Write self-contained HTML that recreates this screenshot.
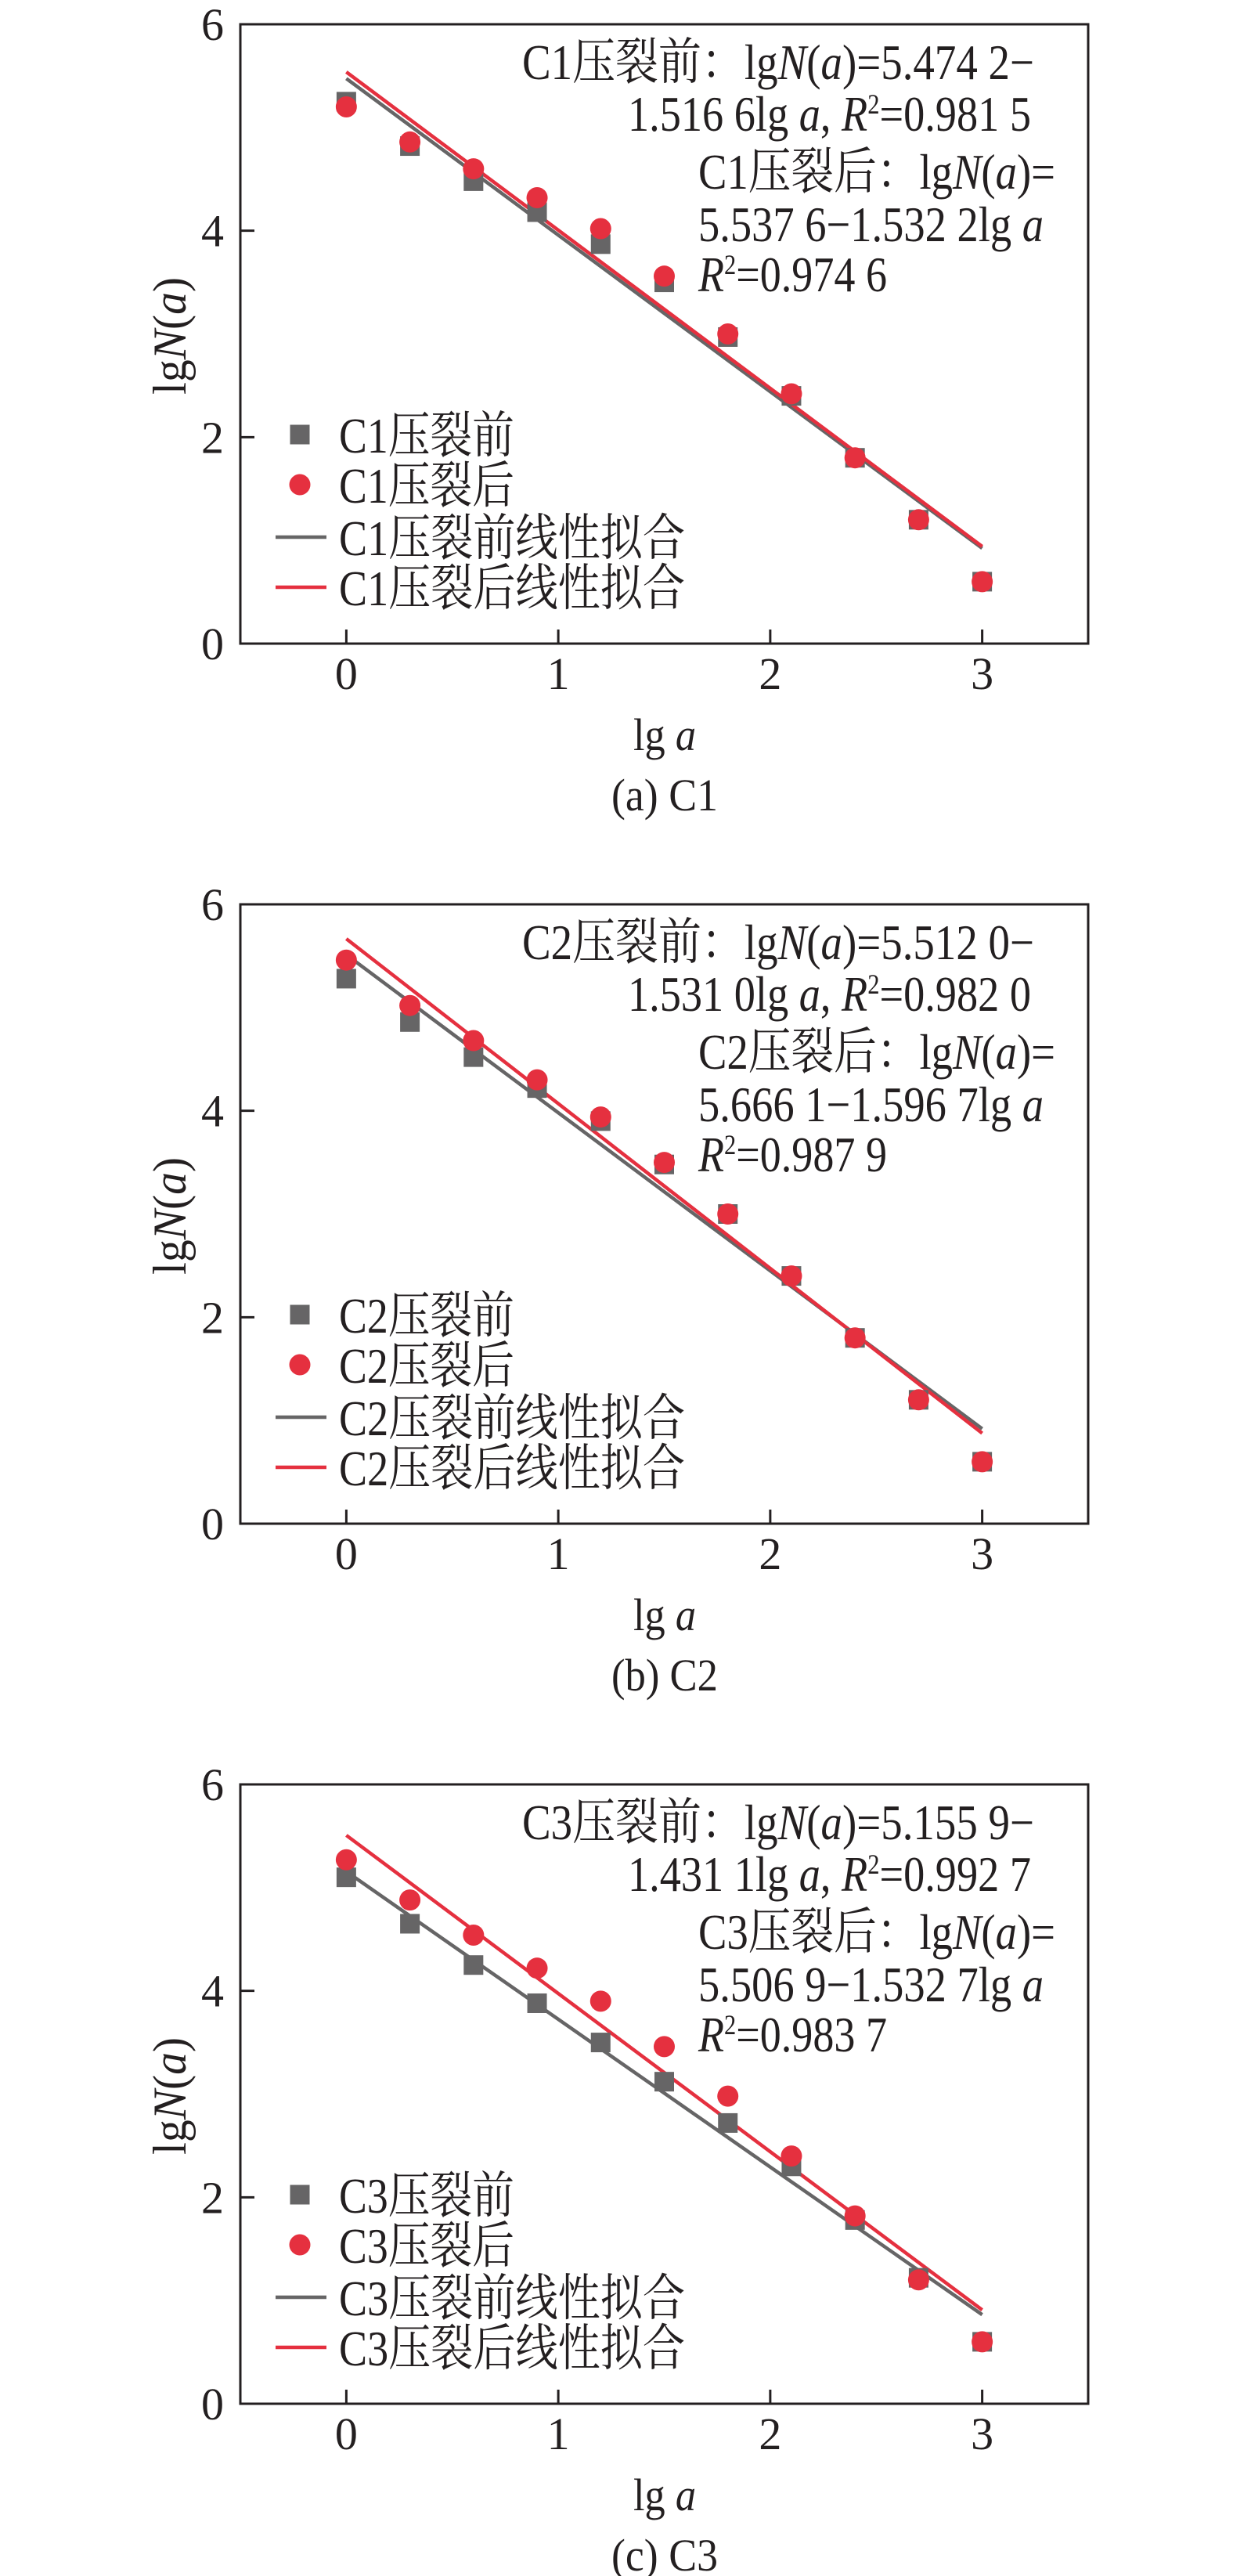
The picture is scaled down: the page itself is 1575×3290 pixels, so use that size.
<!DOCTYPE html>
<html><head><meta charset="utf-8">
<style>
html,body{margin:0;padding:0;background:#fff;}
svg{display:block;}
text{font-family:"Liberation Serif","Noto Serif CJK SC",serif;fill:#231f20;}
</style></head>
<body>
<svg id="fig" width="1575" height="3290" viewBox="0 0 1575 3290" xmlns="http://www.w3.org/2000/svg"></svg>
<script>
const xValues = [0, 0.3, 0.6, 0.9, 1.2, 1.5, 1.8, 2.1, 2.4, 2.7, 3.0];
const c1Before = [5.25, 4.82, 4.48, 4.18, 3.87, 3.50, 2.97, 2.40, 1.80, 1.20, 0.60];
const c1After  = [5.20, 4.86, 4.60, 4.32, 4.02, 3.56, 3.00, 2.42, 1.80, 1.20, 0.60];
const c2Before = [5.28, 4.86, 4.52, 4.22, 3.90, 3.48, 3.00, 2.40, 1.80, 1.20, 0.60];
const c2After  = [5.46, 5.02, 4.68, 4.30, 3.94, 3.50, 3.00, 2.40, 1.80, 1.20, 0.60];
const c3Before = [5.10, 4.65, 4.25, 3.88, 3.50, 3.12, 2.72, 2.30, 1.78, 1.22, 0.60];
const c3After  = [5.27, 4.88, 4.54, 4.22, 3.90, 3.46, 2.98, 2.40, 1.82, 1.20, 0.60];
const fitBeforeIntercepts = [5.4742, 5.5120, 5.1559];
const fitBeforeSlopes = [-1.5166, -1.5310, -1.4311];
const fitAfterIntercepts = [5.5376, 5.6661, 5.5069];
const fitAfterSlopes = [-1.5322, -1.5967, -1.5327];
const xTickLabels = ["0", "1", "2", "3"];
const yTickLabels = ["0", "2", "4", "6"];
const sampleNames = ["C1", "C2", "C3"];
const captionLetters = ["a", "b", "c"];
const eqBefore1 = ["5.474 2−", "5.512 0−", "5.155 9−"];
const eqBefore2 = ["1.516 6", "1.531 0", "1.431 1"];
const r2Before = ["0.981 5", "0.982 0", "0.992 7"];
const eqAfter1 = ["5.537 6−1.532 2", "5.666 1−1.596 7", "5.506 9−1.532 7"];
const r2After = ["0.974 6", "0.987 9", "0.983 7"];

const NS = "http://www.w3.org/2000/svg";
const svg = document.getElementById("fig");
const GRAY = "#666566", RED = "#e5303f";
function mk(tag, attrs, parent) {
  const e = document.createElementNS(NS, tag);
  for (const k in attrs) e.setAttribute(k, attrs[k]);
  (parent || svg).appendChild(e);
  return e;
}
function txt(parent, x, y, size, html, len, anchor) {
  const t = mk("text", {x: x, y: y, "font-size": size}, parent);
  if (anchor) t.setAttribute("text-anchor", anchor);
  if (len) { t.setAttribute("textLength", len); t.setAttribute("lengthAdjust", "spacingAndGlyphs"); }
  t.innerHTML = html;
  return t;
}
const tops = [31, 1155, 2279];
const datasets = [[c1Before, c1After], [c2Before, c2After], [c3Before, c3After]];
const L = 307, R = 1390, H = 791;

for (let c = 0; c < 3; c++) {
  const T = tops[c], B = T + H;
  const g = mk("g", {});
  
  
  const xs = v => L + (v + 0.5) / 4 * (R - L);
  const ys = v => B - v / 6 * H;
  const frame = mk("rect", {x: L, y: T, width: R - L, height: H, fill: "none", stroke: "#231f20", "stroke-width": 3}, g);
  
  
  xTickLabels.forEach(lab => {
    const v = parseFloat(lab), x = xs(v);
    const tk = mk("line", {x1: x, x2: x, y1: B, y2: B - 18, stroke: "#231f20", "stroke-width": 3}, g);
    
    
    const t = txt(g, x, B + 58, 58, lab, 0, "middle");
    
    
  });
  yTickLabels.forEach(lab => {
    const v = parseFloat(lab), y = ys(v);
    const tk = mk("line", {x1: L, x2: L + 18, y1: y, y2: y, stroke: "#231f20", "stroke-width": 3}, g);
    
    
    const t = txt(g, 286, y + 20, 58, lab, 0, "end");
    
    
  });
  const xt = txt(g, 849, T + 927, 58, 'lg <tspan font-style="italic">a</tspan>', 80, "middle");
  
  
  const yt = txt(g, 0, 0, 60, 'lg<tspan font-style="italic">N</tspan>(<tspan font-style="italic">a</tspan>)', 150, "middle");
  yt.setAttribute("transform", "translate(237," + (T + 398) + ") rotate(-90)");
  
  
  const cap = txt(g, 849, T + 1004, 58, "(" + captionLetters[c] + ") " + sampleNames[c], 136, "middle");
  
  

  const fb = mk("line", {x1: xs(0), y1: ys(fitBeforeIntercepts[c]), x2: xs(3), y2: ys(fitBeforeIntercepts[c] + 3 * fitBeforeSlopes[c]), stroke: GRAY, "stroke-width": 4.5}, g);
  
  
  const fa = mk("line", {x1: xs(0), y1: ys(fitAfterIntercepts[c]), x2: xs(3), y2: ys(fitAfterIntercepts[c] + 3 * fitAfterSlopes[c]), stroke: RED, "stroke-width": 4.5}, g);
  
  
  const [bef, aft] = datasets[c];
  xValues.forEach((xv, i) => {
    const s = mk("rect", {x: xs(xv) - 12.5, y: ys(bef[i]) - 12.5, width: 25, height: 25, fill: GRAY}, g);
    
    
  });
  xValues.forEach((xv, i) => {
    const p = mk("circle", {cx: xs(xv), cy: ys(aft[i]), r: 13.5, fill: RED}, g);
    
    
  });
  const n = sampleNames[c];
  const it = s => '<tspan font-style="italic">' + s + '</tspan>';
  const a1 = txt(g, 667, T + 70, 64, n + '压裂前：lg' + it('N') + '(' + it('a') + ')=' + eqBefore1[c], 654);
  
  
  const a2 = txt(g, 802, T + 136, 64, eqBefore2[c] + 'lg ' + it('a') + ', ' + it('R') + '<tspan font-size="36" dy="-22">2</tspan><tspan dy="22">=' + r2Before[c] + '</tspan>', 515);
  
  
  const a3 = txt(g, 892, T + 210, 64, n + '压裂后：lg' + it('N') + '(' + it('a') + ')=', 456);
  
  
  const a4 = txt(g, 892, T + 277, 64, eqAfter1[c] + 'lg ' + it('a'), 441);
  
  
  const a5 = txt(g, 892, T + 341, 64, it('R') + '<tspan font-size="36" dy="-22">2</tspan><tspan dy="22">=' + r2After[c] + '</tspan>', 241);
  
  
  const lg = mk("g", {}, g);
  
  
  const rows = [524, 588, 655, 719];
  const ls = mk("rect", {x: 370.5, y: T + rows[0] - 12.5, width: 25, height: 25, fill: GRAY}, lg);
  
  
  const lc = mk("circle", {cx: 383, cy: T + rows[1], r: 13.5, fill: RED}, lg);
  
  
  const l1 = mk("line", {x1: 352, x2: 417, y1: T + rows[2], y2: T + rows[2], stroke: GRAY, "stroke-width": 4.5}, lg);
  
  
  const l2 = mk("line", {x1: 352, x2: 417, y1: T + rows[3], y2: T + rows[3], stroke: RED, "stroke-width": 4.5}, lg);
  
  
  const labels = [n + "压裂前", n + "压裂后", n + "压裂前线性拟合", n + "压裂后线性拟合"];
  const lens = [224, 224, 442, 442];
  labels.forEach((s, i) => {
    const t = txt(lg, 433, T + rows[i] + 23, 64, s, lens[i]);
    
    
  });
}
</script>
</body></html>
